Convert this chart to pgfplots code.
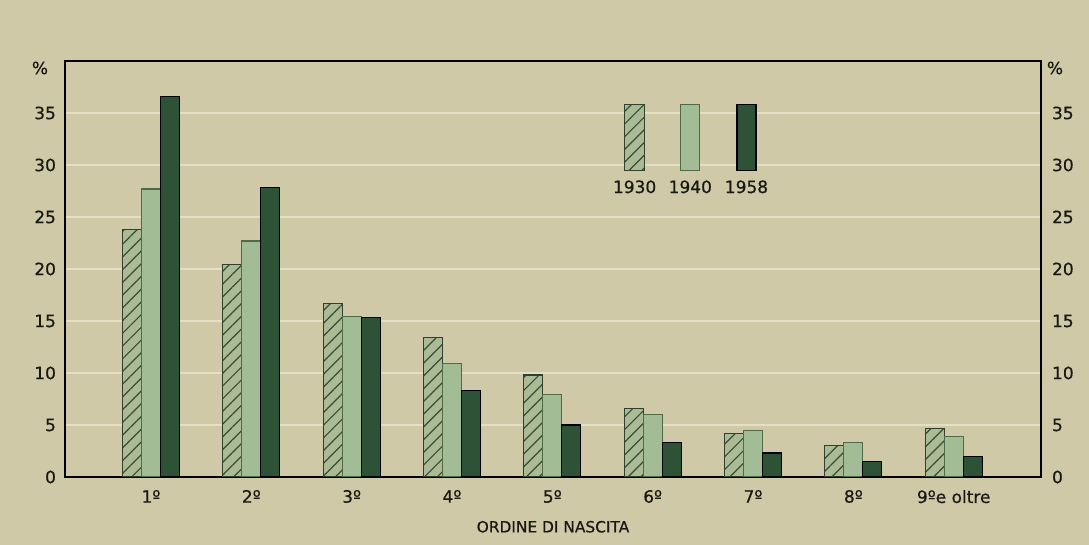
\documentclass[border=0pt]{standalone}
\usepackage{fontspec}
\setmainfont{DejaVu Sans}[FakeBold=0.6]
\usepackage{pgfplots}
\pgfplotsset{compat=1.18}
\usetikzlibrary{patterns.meta}
\definecolor{bg}{RGB}{207,201,167}
\definecolor{gridc}{RGB}{228,223,197}
\definecolor{cA}{RGB}{170,187,150}
\definecolor{cB}{RGB}{162,188,150}
\definecolor{cC}{RGB}{45,82,53}
\definecolor{edgeA}{RGB}{50,65,45}
\definecolor{edgeB}{RGB}{80,105,70}
\definecolor{hatch}{RGB}{55,78,52}
\definecolor{txt}{RGB}{25,25,20}
\newcommand{\lf}{\fontsize{8.5}{10}\selectfont}
\begin{document}
\begin{tikzpicture}[x=1pt,y=1pt]
\fill[bg] (-32.5,-34) rectangle (512,238.5);
\begin{axis}[
  at={(0,0)}, anchor=south west,
  scale only axis, width=488pt, height=208pt,
  xmin=0.143, xmax=9.87, ymin=0, ymax=40,
  ybar=0pt, bar width=9.5pt,
  xtick={1,...,9},
  xticklabels={1º,2º,3º,4º,5º,6º,7º,8º,9ºe oltre},
  ytick={0,5,...,35},
  major tick length=0pt,
  ymajorgrids, grid style={gridc, line width=1.3pt},
  axis line style={black, line width=0.8pt},
  tick label style={font=\lf, text=txt},
  /pgf/number format/assume math mode=true,
  yticklabel style={xshift=-1pt},
  xticklabel style={yshift=-3pt},
  xlabel={ORDINE DI NASCITA},
  xlabel style={font=\fontsize{7.7}{10}\selectfont, text=txt, yshift=-2pt},
]
\addplot[fill=cA, draw=edgeA, line width=0.6pt,
  postaction={pattern={Lines[angle=45,distance=4.5pt,line width=0.6pt]}, pattern color=hatch}]
  coordinates {(1,23.8) (2,20.4) (3,16.7) (4,13.4) (5,9.8) (6,6.6) (7,4.2) (8,3.0) (9,4.7)};
\addplot[fill=cB, draw=edgeB, line width=0.6pt]
  coordinates {(1,27.7) (2,22.7) (3,15.4) (4,10.9) (5,7.9) (6,6.0) (7,4.5) (8,3.3) (9,3.9)};
\addplot[fill=cC, draw=black, line width=0.6pt]
  coordinates {(1,36.6) (2,27.8) (3,15.3) (4,8.3) (5,5.0) (6,3.3) (7,2.3) (8,1.5) (9,2.0)};
% legend swatches
\draw[fill=cA, draw=edgeA, line width=0.6pt,
  postaction={pattern={Lines[angle=45,distance=4.5pt,line width=0.6pt]}, pattern color=hatch}]
  (axis cs:5.72,29.5) rectangle (axis cs:5.92,35.8);
\draw[fill=cB, draw=edgeB, line width=0.6pt] (axis cs:6.28,29.5) rectangle (axis cs:6.47,35.8);
\draw[fill=cC, draw=black, line width=0.6pt] (axis cs:6.84,29.5) rectangle (axis cs:7.03,35.8);
\node[font=\lf, text=txt] at (axis cs:5.82,27.9) {1930};
\node[font=\lf, text=txt] at (axis cs:6.375,27.9) {1940};
\node[font=\lf, text=txt] at (axis cs:6.935,27.9) {1958};
\end{axis}
\begin{axis}[
  at={(0,0)}, anchor=south west,
  scale only axis, width=488pt, height=208pt,
  xmin=0.143, xmax=9.87, ymin=0, ymax=40,
  axis x line=none, axis y line*=right,
  yticklabel pos=right,
  ytick={0,5,...,35},
  major tick length=0pt,
  axis line style={black, line width=0.8pt},
  tick label style={font=\lf, text=txt},
  /pgf/number format/assume math mode=true,
  yticklabel style={xshift=2pt},
]
\addplot[draw=none] coordinates {(1,0)};
\end{axis}
\node[font=\lf, text=txt] at (-12.5,204.5) {\%};
\node[font=\lf, text=txt] at (495,204.5) {\%};
\end{tikzpicture}
\end{document}
